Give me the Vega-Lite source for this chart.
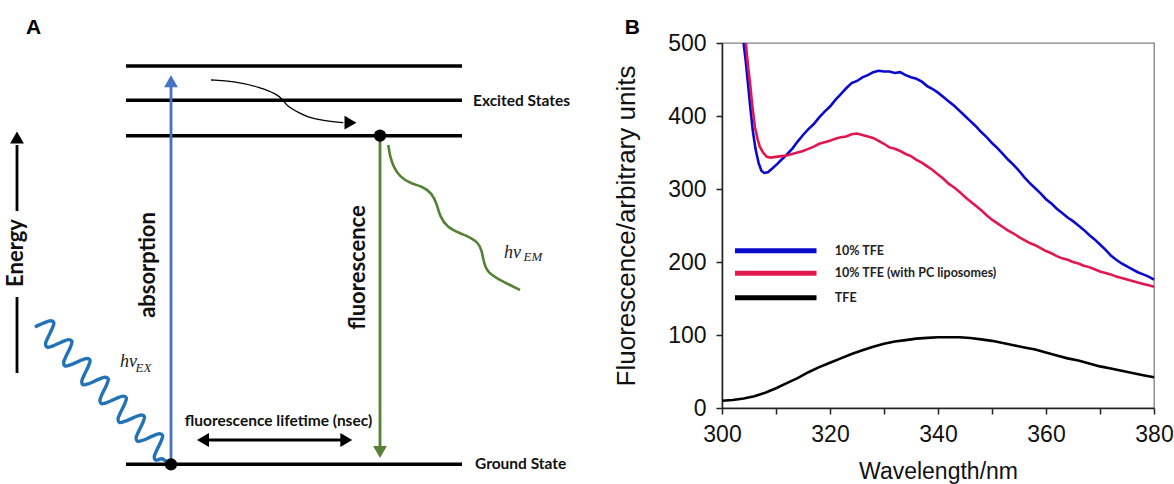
{
  "$schema": "https://vega.github.io/schema/vega-lite/v6.json",
  "width": 432,
  "height": 365,
  "autosize": {"type": "none"},
  "padding": {"left": 722, "top": 43, "right": 20, "bottom": 76},
  "background": "white",
  "config": {"view": {"stroke": "#808080", "strokeWidth": 1.3}},
  "datasets": {
    "curves": [
      {"series": "10% TFE", "w": 304.0, "v": 500}, {"series": "10% TFE", "w": 304.4, "v": 475}, {"series": "10% TFE", "w": 304.8, "v": 445}, {"series": "10% TFE", "w": 305.2, "v": 415}, {"series": "10% TFE", "w": 305.7, "v": 380}, {"series": "10% TFE", "w": 306.2, "v": 355}, {"series": "10% TFE", "w": 306.8, "v": 335}, {"series": "10% TFE", "w": 307.3, "v": 325}, {"series": "10% TFE", "w": 307.8, "v": 322}, {"series": "10% TFE", "w": 308.5, "v": 323}, {"series": "10% TFE", "w": 309.3, "v": 328}, {"series": "10% TFE", "w": 310.2, "v": 334}, {"series": "10% TFE", "w": 311, "v": 340}, {"series": "10% TFE", "w": 312, "v": 347}, {"series": "10% TFE", "w": 313.1, "v": 356}, {"series": "10% TFE", "w": 314, "v": 365}, {"series": "10% TFE", "w": 315, "v": 374}, {"series": "10% TFE", "w": 316, "v": 382}, {"series": "10% TFE", "w": 317, "v": 389}, {"series": "10% TFE", "w": 318, "v": 398}, {"series": "10% TFE", "w": 319, "v": 406}, {"series": "10% TFE", "w": 320, "v": 413}, {"series": "10% TFE", "w": 321, "v": 422}, {"series": "10% TFE", "w": 322, "v": 430}, {"series": "10% TFE", "w": 323, "v": 438}, {"series": "10% TFE", "w": 324, "v": 445}, {"series": "10% TFE", "w": 325, "v": 448}, {"series": "10% TFE", "w": 326, "v": 453}, {"series": "10% TFE", "w": 327, "v": 456}, {"series": "10% TFE", "w": 328, "v": 460}, {"series": "10% TFE", "w": 329, "v": 462}, {"series": "10% TFE", "w": 330, "v": 461}, {"series": "10% TFE", "w": 331, "v": 461}, {"series": "10% TFE", "w": 332, "v": 459}, {"series": "10% TFE", "w": 333, "v": 460}, {"series": "10% TFE", "w": 334, "v": 456}, {"series": "10% TFE", "w": 335, "v": 453}, {"series": "10% TFE", "w": 336, "v": 451}, {"series": "10% TFE", "w": 337, "v": 447}, {"series": "10% TFE", "w": 338, "v": 441}, {"series": "10% TFE", "w": 339, "v": 437}, {"series": "10% TFE", "w": 340, "v": 432}, {"series": "10% TFE", "w": 341, "v": 426}, {"series": "10% TFE", "w": 342, "v": 420}, {"series": "10% TFE", "w": 343, "v": 414}, {"series": "10% TFE", "w": 344, "v": 407}, {"series": "10% TFE", "w": 345, "v": 400}, {"series": "10% TFE", "w": 346, "v": 393}, {"series": "10% TFE", "w": 347, "v": 386}, {"series": "10% TFE", "w": 348, "v": 378}, {"series": "10% TFE", "w": 349, "v": 371}, {"series": "10% TFE", "w": 350, "v": 363}, {"series": "10% TFE", "w": 351, "v": 356}, {"series": "10% TFE", "w": 352, "v": 348}, {"series": "10% TFE", "w": 353, "v": 340}, {"series": "10% TFE", "w": 354, "v": 333}, {"series": "10% TFE", "w": 355, "v": 325}, {"series": "10% TFE", "w": 356, "v": 316}, {"series": "10% TFE", "w": 357, "v": 308}, {"series": "10% TFE", "w": 358, "v": 301}, {"series": "10% TFE", "w": 359, "v": 294}, {"series": "10% TFE", "w": 360, "v": 286}, {"series": "10% TFE", "w": 361, "v": 280}, {"series": "10% TFE", "w": 362, "v": 273}, {"series": "10% TFE", "w": 363, "v": 267}, {"series": "10% TFE", "w": 364, "v": 261}, {"series": "10% TFE", "w": 365, "v": 256}, {"series": "10% TFE", "w": 366, "v": 250}, {"series": "10% TFE", "w": 367, "v": 244}, {"series": "10% TFE", "w": 368, "v": 237}, {"series": "10% TFE", "w": 369, "v": 231}, {"series": "10% TFE", "w": 370, "v": 224}, {"series": "10% TFE", "w": 371, "v": 217}, {"series": "10% TFE", "w": 372, "v": 209}, {"series": "10% TFE", "w": 373, "v": 203}, {"series": "10% TFE", "w": 374, "v": 198}, {"series": "10% TFE", "w": 375, "v": 194}, {"series": "10% TFE", "w": 376, "v": 190}, {"series": "10% TFE", "w": 377, "v": 186}, {"series": "10% TFE", "w": 378, "v": 183}, {"series": "10% TFE", "w": 379, "v": 180}, {"series": "10% TFE", "w": 380, "v": 176},
      {"series": "10% TFE (with PC liposomes)", "w": 304.4, "v": 500}, {"series": "10% TFE (with PC liposomes)", "w": 304.8, "v": 470}, {"series": "10% TFE (with PC liposomes)", "w": 305.2, "v": 445}, {"series": "10% TFE (with PC liposomes)", "w": 305.6, "v": 415}, {"series": "10% TFE (with PC liposomes)", "w": 306.1, "v": 385}, {"series": "10% TFE (with PC liposomes)", "w": 306.6, "v": 368}, {"series": "10% TFE (with PC liposomes)", "w": 307.0, "v": 358}, {"series": "10% TFE (with PC liposomes)", "w": 307.6, "v": 350}, {"series": "10% TFE (with PC liposomes)", "w": 308.3, "v": 344}, {"series": "10% TFE (with PC liposomes)", "w": 309, "v": 343}, {"series": "10% TFE (with PC liposomes)", "w": 310, "v": 344}, {"series": "10% TFE (with PC liposomes)", "w": 311, "v": 345}, {"series": "10% TFE (with PC liposomes)", "w": 312, "v": 346}, {"series": "10% TFE (with PC liposomes)", "w": 313, "v": 348}, {"series": "10% TFE (with PC liposomes)", "w": 314, "v": 350}, {"series": "10% TFE (with PC liposomes)", "w": 315, "v": 352}, {"series": "10% TFE (with PC liposomes)", "w": 316, "v": 355}, {"series": "10% TFE (with PC liposomes)", "w": 317, "v": 358}, {"series": "10% TFE (with PC liposomes)", "w": 318, "v": 362}, {"series": "10% TFE (with PC liposomes)", "w": 319, "v": 364}, {"series": "10% TFE (with PC liposomes)", "w": 320, "v": 366}, {"series": "10% TFE (with PC liposomes)", "w": 321, "v": 369}, {"series": "10% TFE (with PC liposomes)", "w": 322, "v": 371}, {"series": "10% TFE (with PC liposomes)", "w": 323, "v": 372}, {"series": "10% TFE (with PC liposomes)", "w": 324, "v": 375}, {"series": "10% TFE (with PC liposomes)", "w": 325, "v": 376}, {"series": "10% TFE (with PC liposomes)", "w": 326, "v": 374}, {"series": "10% TFE (with PC liposomes)", "w": 327, "v": 372}, {"series": "10% TFE (with PC liposomes)", "w": 328, "v": 370}, {"series": "10% TFE (with PC liposomes)", "w": 329, "v": 366}, {"series": "10% TFE (with PC liposomes)", "w": 330, "v": 362}, {"series": "10% TFE (with PC liposomes)", "w": 331, "v": 357}, {"series": "10% TFE (with PC liposomes)", "w": 332, "v": 355}, {"series": "10% TFE (with PC liposomes)", "w": 333, "v": 352}, {"series": "10% TFE (with PC liposomes)", "w": 334, "v": 348}, {"series": "10% TFE (with PC liposomes)", "w": 335, "v": 345}, {"series": "10% TFE (with PC liposomes)", "w": 336, "v": 340}, {"series": "10% TFE (with PC liposomes)", "w": 337, "v": 336}, {"series": "10% TFE (with PC liposomes)", "w": 338, "v": 331}, {"series": "10% TFE (with PC liposomes)", "w": 339, "v": 326}, {"series": "10% TFE (with PC liposomes)", "w": 340, "v": 320}, {"series": "10% TFE (with PC liposomes)", "w": 341, "v": 314}, {"series": "10% TFE (with PC liposomes)", "w": 342, "v": 307}, {"series": "10% TFE (with PC liposomes)", "w": 343, "v": 302}, {"series": "10% TFE (with PC liposomes)", "w": 344, "v": 296}, {"series": "10% TFE (with PC liposomes)", "w": 345, "v": 289}, {"series": "10% TFE (with PC liposomes)", "w": 346, "v": 283}, {"series": "10% TFE (with PC liposomes)", "w": 347, "v": 277}, {"series": "10% TFE (with PC liposomes)", "w": 348, "v": 271}, {"series": "10% TFE (with PC liposomes)", "w": 349, "v": 264}, {"series": "10% TFE (with PC liposomes)", "w": 350, "v": 258}, {"series": "10% TFE (with PC liposomes)", "w": 351, "v": 253}, {"series": "10% TFE (with PC liposomes)", "w": 352, "v": 248}, {"series": "10% TFE (with PC liposomes)", "w": 353, "v": 243}, {"series": "10% TFE (with PC liposomes)", "w": 354, "v": 239}, {"series": "10% TFE (with PC liposomes)", "w": 355, "v": 234}, {"series": "10% TFE (with PC liposomes)", "w": 356, "v": 230}, {"series": "10% TFE (with PC liposomes)", "w": 357, "v": 226}, {"series": "10% TFE (with PC liposomes)", "w": 358, "v": 223}, {"series": "10% TFE (with PC liposomes)", "w": 359, "v": 219}, {"series": "10% TFE (with PC liposomes)", "w": 360, "v": 215}, {"series": "10% TFE (with PC liposomes)", "w": 361, "v": 212}, {"series": "10% TFE (with PC liposomes)", "w": 362, "v": 208}, {"series": "10% TFE (with PC liposomes)", "w": 363, "v": 205}, {"series": "10% TFE (with PC liposomes)", "w": 364, "v": 203}, {"series": "10% TFE (with PC liposomes)", "w": 365, "v": 200}, {"series": "10% TFE (with PC liposomes)", "w": 366, "v": 198}, {"series": "10% TFE (with PC liposomes)", "w": 367, "v": 195}, {"series": "10% TFE (with PC liposomes)", "w": 368, "v": 193}, {"series": "10% TFE (with PC liposomes)", "w": 369, "v": 190}, {"series": "10% TFE (with PC liposomes)", "w": 370, "v": 187}, {"series": "10% TFE (with PC liposomes)", "w": 371, "v": 185}, {"series": "10% TFE (with PC liposomes)", "w": 372, "v": 183}, {"series": "10% TFE (with PC liposomes)", "w": 373, "v": 180}, {"series": "10% TFE (with PC liposomes)", "w": 374, "v": 178}, {"series": "10% TFE (with PC liposomes)", "w": 375, "v": 176}, {"series": "10% TFE (with PC liposomes)", "w": 376, "v": 174}, {"series": "10% TFE (with PC liposomes)", "w": 377, "v": 172}, {"series": "10% TFE (with PC liposomes)", "w": 378, "v": 170}, {"series": "10% TFE (with PC liposomes)", "w": 379, "v": 168}, {"series": "10% TFE (with PC liposomes)", "w": 380, "v": 166},
      {"series": "TFE", "w": 300, "v": 10}, {"series": "TFE", "w": 302, "v": 11}, {"series": "TFE", "w": 304, "v": 13}, {"series": "TFE", "w": 306, "v": 16}, {"series": "TFE", "w": 308, "v": 21}, {"series": "TFE", "w": 310, "v": 27}, {"series": "TFE", "w": 312, "v": 34}, {"series": "TFE", "w": 314, "v": 41}, {"series": "TFE", "w": 316, "v": 49}, {"series": "TFE", "w": 318, "v": 56}, {"series": "TFE", "w": 320, "v": 62}, {"series": "TFE", "w": 322, "v": 68}, {"series": "TFE", "w": 324, "v": 74}, {"series": "TFE", "w": 326, "v": 79}, {"series": "TFE", "w": 328, "v": 84}, {"series": "TFE", "w": 330, "v": 88}, {"series": "TFE", "w": 332, "v": 91}, {"series": "TFE", "w": 334, "v": 93}, {"series": "TFE", "w": 336, "v": 95}, {"series": "TFE", "w": 338, "v": 96}, {"series": "TFE", "w": 340, "v": 97}, {"series": "TFE", "w": 342, "v": 97}, {"series": "TFE", "w": 344, "v": 97}, {"series": "TFE", "w": 346, "v": 96}, {"series": "TFE", "w": 348, "v": 94}, {"series": "TFE", "w": 350, "v": 92}, {"series": "TFE", "w": 352, "v": 89}, {"series": "TFE", "w": 354, "v": 86}, {"series": "TFE", "w": 356, "v": 83}, {"series": "TFE", "w": 358, "v": 80}, {"series": "TFE", "w": 360, "v": 76}, {"series": "TFE", "w": 362, "v": 72}, {"series": "TFE", "w": 364, "v": 68}, {"series": "TFE", "w": 366, "v": 65}, {"series": "TFE", "w": 368, "v": 61}, {"series": "TFE", "w": 370, "v": 57}, {"series": "TFE", "w": 372, "v": 54}, {"series": "TFE", "w": 374, "v": 51}, {"series": "TFE", "w": 376, "v": 48}, {"series": "TFE", "w": 378, "v": 45}, {"series": "TFE", "w": 380, "v": 42}
    ],
    "legendB": [
      {"series": "10% TFE", "lx": 302.4, "lx2": 317.5, "ly": 215.5, "tx": 320.9},
      {"series": "10% TFE (with PC liposomes)", "lx": 302.4, "lx2": 317.5, "ly": 184.5, "tx": 320.9},
      {"series": "TFE", "lx": 302.4, "lx2": 317.5, "ly": 151.1, "tx": 320.9}
    ],
    "panelB": [{"label": "B", "w": 283.4, "v": 521.2}],
    "levels": [
      {"state": "excited 2", "x": 12.6, "x2": 46.2, "y": 41.8},
      {"state": "excited 1", "x": 12.6, "x2": 46.2, "y": 38.37},
      {"state": "excited 0", "x": 12.6, "x2": 46.2, "y": 34.83},
      {"state": "ground", "x": 12.6, "x2": 46.2, "y": 1.97}
    ],
    "arrows": [
      {"name": "absorption", "kind": "absorption", "x": 17.1, "y": 1.97, "x2": 17.1, "y2": 39.8},
      {"name": "fluorescence", "kind": "emission", "x": 38.0, "y": 34.83, "x2": 38.0, "y2": 3.8},
      {"name": "lifetime", "kind": "neutral", "x": 20.6, "y": 4.4, "x2": 34.4, "y2": 4.4},
      {"name": "energy upper", "kind": "neutral", "x": 1.7, "y": 27.3, "x2": 1.7, "y2": 33.9},
      {"name": "energy lower", "kind": "neutral", "x": 1.7, "y": 11.1, "x2": 1.7, "y2": 18.7}
    ],
    "heads": [
      {"kind": "absorption", "dir": "up", "x": 17.1, "y": 40.27},
      {"kind": "emission", "dir": "down", "x": 38.0, "y": 3.2},
      {"kind": "neutral", "dir": "left", "x": 20.3, "y": 4.4},
      {"kind": "neutral", "dir": "right", "x": 34.63, "y": 4.4},
      {"kind": "neutral", "dir": "up", "x": 1.7, "y": 34.65},
      {"kind": "neutral", "dir": "right", "x": 35.05, "y": 36.13}
    ],
    "dots": [{"x": 17.1, "y": 1.97}, {"x": 38.0, "y": 34.83}],
    "paths": [
      {"path": "ex", "i": 0, "x": 3.49, "y": 15.70}, {"path": "ex", "i": 1, "x": 4.34, "y": 16.08}, {"path": "ex", "i": 2, "x": 5.08, "y": 16.32}, {"path": "ex", "i": 3, "x": 5.38, "y": 16.16}, {"path": "ex", "i": 4, "x": 5.22, "y": 15.56}, {"path": "ex", "i": 5, "x": 4.82, "y": 14.71}, {"path": "ex", "i": 6, "x": 4.55, "y": 14.00}, {"path": "ex", "i": 7, "x": 4.69, "y": 13.69},
      {"path": "ex", "i": 8, "x": 5.30, "y": 13.82}, {"path": "ex", "i": 9, "x": 6.16, "y": 14.19}, {"path": "ex", "i": 10, "x": 6.89, "y": 14.44}, {"path": "ex", "i": 11, "x": 7.19, "y": 14.28}, {"path": "ex", "i": 12, "x": 7.03, "y": 13.67}, {"path": "ex", "i": 13, "x": 6.63, "y": 12.83}, {"path": "ex", "i": 14, "x": 6.36, "y": 12.11}, {"path": "ex", "i": 15, "x": 6.50, "y": 11.80},
      {"path": "ex", "i": 16, "x": 7.11, "y": 11.94}, {"path": "ex", "i": 17, "x": 7.97, "y": 12.31}, {"path": "ex", "i": 18, "x": 8.70, "y": 12.55}, {"path": "ex", "i": 19, "x": 9.01, "y": 12.39}, {"path": "ex", "i": 20, "x": 8.84, "y": 11.79}, {"path": "ex", "i": 21, "x": 8.44, "y": 10.95}, {"path": "ex", "i": 22, "x": 8.17, "y": 10.23}, {"path": "ex", "i": 23, "x": 8.31, "y": 9.92},
      {"path": "ex", "i": 24, "x": 8.93, "y": 10.05}, {"path": "ex", "i": 25, "x": 9.78, "y": 10.43}, {"path": "ex", "i": 26, "x": 10.52, "y": 10.67}, {"path": "ex", "i": 27, "x": 10.82, "y": 10.51}, {"path": "ex", "i": 28, "x": 10.66, "y": 9.91}, {"path": "ex", "i": 29, "x": 10.25, "y": 9.06}, {"path": "ex", "i": 30, "x": 9.99, "y": 8.35}, {"path": "ex", "i": 31, "x": 10.12, "y": 8.04},
      {"path": "ex", "i": 32, "x": 10.74, "y": 8.17}, {"path": "ex", "i": 33, "x": 11.60, "y": 8.54}, {"path": "ex", "i": 34, "x": 12.33, "y": 8.79}, {"path": "ex", "i": 35, "x": 12.63, "y": 8.63}, {"path": "ex", "i": 36, "x": 12.47, "y": 8.02}, {"path": "ex", "i": 37, "x": 12.07, "y": 7.18}, {"path": "ex", "i": 38, "x": 11.80, "y": 6.47}, {"path": "ex", "i": 39, "x": 11.94, "y": 6.15},
      {"path": "ex", "i": 40, "x": 12.55, "y": 6.29}, {"path": "ex", "i": 41, "x": 13.41, "y": 6.66}, {"path": "ex", "i": 42, "x": 14.14, "y": 6.90}, {"path": "ex", "i": 43, "x": 14.45, "y": 6.74}, {"path": "ex", "i": 44, "x": 14.28, "y": 6.14}, {"path": "ex", "i": 45, "x": 13.88, "y": 5.30}, {"path": "ex", "i": 46, "x": 13.61, "y": 4.58}, {"path": "ex", "i": 47, "x": 13.75, "y": 4.27},
      {"path": "ex", "i": 48, "x": 14.37, "y": 4.40}, {"path": "ex", "i": 49, "x": 15.22, "y": 4.78}, {"path": "ex", "i": 50, "x": 15.95, "y": 5.02}, {"path": "ex", "i": 51, "x": 16.26, "y": 4.86}, {"path": "ex", "i": 52, "x": 16.10, "y": 4.26}, {"path": "ex", "i": 53, "x": 15.69, "y": 3.41}, {"path": "ex", "i": 54, "x": 15.42, "y": 2.70}, {"path": "ex", "i": 55, "x": 15.56, "y": 2.39},
      {"path": "ex", "i": 56, "x": 16.18, "y": 2.52}, {"path": "ex", "i": 57, "x": 16.65, "y": 2.25},
      {"path": "em", "i": 0, "x": 38.83, "y": 33.9}, {"path": "em", "i": 1, "x": 39.0, "y": 32.73}, {"path": "em", "i": 2, "x": 39.4, "y": 31.6}, {"path": "em", "i": 3, "x": 40.0, "y": 30.73}, {"path": "em", "i": 4, "x": 41.0, "y": 30.07}, {"path": "em", "i": 5, "x": 42.33, "y": 29.73}, {"path": "em", "i": 6, "x": 43.17, "y": 29.07}, {"path": "em", "i": 7, "x": 43.67, "y": 28.07}, {"path": "em", "i": 8, "x": 44.0, "y": 26.73}, {"path": "em", "i": 9, "x": 44.67, "y": 25.73}, {"path": "em", "i": 10, "x": 46.0, "y": 25.07}, {"path": "em", "i": 11, "x": 47.17, "y": 24.6}, {"path": "em", "i": 12, "x": 47.83, "y": 24.07}, {"path": "em", "i": 13, "x": 48.17, "y": 23.4}, {"path": "em", "i": 14, "x": 48.33, "y": 22.4}, {"path": "em", "i": 15, "x": 48.67, "y": 21.23}, {"path": "em", "i": 16, "x": 49.67, "y": 20.57}, {"path": "em", "i": 17, "x": 51.0, "y": 19.9}, {"path": "em", "i": 18, "x": 52.0, "y": 19.4},
      {"path": "relax", "i": 0, "x": 21.1, "y": 40.4}, {"path": "relax", "i": 1, "x": 23.33, "y": 40.3}, {"path": "relax", "i": 2, "x": 26.0, "y": 39.67}, {"path": "relax", "i": 3, "x": 27.67, "y": 39.0}, {"path": "relax", "i": 4, "x": 28.33, "y": 38.4}, {"path": "relax", "i": 5, "x": 28.67, "y": 37.8}, {"path": "relax", "i": 6, "x": 30.0, "y": 37.07}, {"path": "relax", "i": 7, "x": 30.67, "y": 36.73}, {"path": "relax", "i": 8, "x": 32.33, "y": 36.33}, {"path": "relax", "i": 9, "x": 34.33, "y": 36.13}
    ],
    "textsA": [
      {"role": "panel", "label": "A", "x": 3.35, "y": 45.65},
      {"role": "state", "label": "Excited States", "x": 47.3, "y": 37.8},
      {"role": "state", "label": "Ground State", "x": 47.5, "y": 1.47},
      {"role": "lifetime", "label": "fluorescence lifetime (nsec)", "x": 27.85, "y": 5.83},
      {"role": "vertical", "label": "absorption", "x": 14.75, "y": 21.9},
      {"role": "vertical", "label": "fluorescence", "x": 35.75, "y": 21.65},
      {"role": "vertical", "label": "Energy", "x": 1.6, "y": 23.1},
      {"role": "photon", "label": "hν", "x": 12.0, "y": 11.67},
      {"role": "sub", "label": "EX", "x": 13.55, "y": 11.23},
      {"role": "photon", "label": "hν", "x": 50.4, "y": 22.57},
      {"role": "sub", "label": "EM", "x": 52.35, "y": 22.33}
    ]
  },
  "layer": [
    {
      "layer": [
        {
          "data": {"name": "curves"},
          "mark": {"type": "line", "strokeWidth": 2.6},
          "encoding": {
            "x": {"field": "w", "type": "quantitative", "title": "Wavelength/nm",
              "scale": {"domain": [300, 380], "nice": false, "zero": false},
              "axis": {"values": [300, 310, 320, 330, 340, 350, 360, 370, 380], "labelExpr": "datum.value % 20 === 0 ? datum.label : ''", "labelFlush": false, "labelOverlap": false, "labelFont": "Liberation Sans", "labelFontSize": 23, "labelColor": "#111", "labelPadding": 9, "tickSize": 6, "tickWidth": 1.5, "tickColor": "#222", "domainColor": "#222", "domainWidth": 1.5, "grid": false, "titleFont": "Liberation Sans", "titleFontSize": 23, "titleFontWeight": "normal", "titleColor": "#111", "titlePadding": 14}},
            "y": {"field": "v", "type": "quantitative", "title": "Fluorescence/arbitrary units",
              "scale": {"domain": [0, 500], "nice": false, "zero": false},
              "axis": {"values": [0, 50, 100, 150, 200, 250, 300, 350, 400, 450, 500], "labelExpr": "datum.value % 100 === 0 ? datum.label : ''", "labelOverlap": false, "labelFont": "Liberation Sans", "labelFontSize": 23, "labelColor": "#111", "labelPadding": 10, "tickSize": 6, "tickWidth": 1.5, "tickColor": "#222", "domainColor": "#222", "domainWidth": 1.5, "grid": false, "titleFont": "Liberation Sans", "titleFontSize": 26, "titleFontWeight": "normal", "titleColor": "#111", "titlePadding": 28}},
            "color": {"field": "series", "type": "nominal", "legend": null,
              "scale": {"domain": ["10% TFE", "10% TFE (with PC liposomes)", "TFE"], "range": ["#0A0ACC", "#E3174F", "#000000"]}}
          }
        },
        {
          "data": {"name": "legendB"},
          "mark": {"type": "rule", "strokeWidth": 5},
          "encoding": {
            "x": {"field": "lx", "type": "quantitative", "title": "Wavelength/nm", "scale": {"domain": [300, 380], "nice": false, "zero": false}},
            "x2": {"field": "lx2"},
            "y": {"field": "ly", "type": "quantitative", "title": "Fluorescence/arbitrary units", "scale": {"domain": [0, 500], "nice": false, "zero": false}},
            "color": {"field": "series", "type": "nominal", "legend": null,
              "scale": {"domain": ["10% TFE", "10% TFE (with PC liposomes)", "TFE"], "range": ["#0A0ACC", "#E3174F", "#000000"]}}
          }
        },
        {
          "data": {"name": "legendB"},
          "mark": {"type": "text", "align": "left", "baseline": "middle", "font": "Lato", "fontWeight": "bold", "fontSize": 12.5, "color": "#222"},
          "encoding": {
            "x": {"field": "tx", "type": "quantitative", "title": "Wavelength/nm", "scale": {"domain": [300, 380], "nice": false, "zero": false}},
            "y": {"field": "ly", "type": "quantitative", "title": "Fluorescence/arbitrary units", "scale": {"domain": [0, 500], "nice": false, "zero": false}},
            "text": {"field": "series"}
          }
        },
        {
          "data": {"name": "panelB"},
          "mark": {"type": "text", "align": "center", "baseline": "middle", "font": "Liberation Sans", "fontWeight": "bold", "fontSize": 21, "color": "#000"},
          "encoding": {
            "x": {"field": "w", "type": "quantitative", "title": "Wavelength/nm", "scale": {"domain": [300, 380], "nice": false, "zero": false}},
            "y": {"field": "v", "type": "quantitative", "title": "Fluorescence/arbitrary units", "scale": {"domain": [0, 500], "nice": false, "zero": false}},
            "text": {"field": "label"}
          }
        }
      ]
    },
    {
      "layer": [
        {
          "data": {"name": "levels"},
          "mark": {"type": "rule", "strokeWidth": 3.5, "color": "#000"},
          "encoding": {
            "x": {"field": "x", "type": "quantitative", "axis": null, "scale": {"domain": [0, 59], "range": [-722, -132], "nice": false, "zero": false}},
            "x2": {"field": "x2"},
            "y": {"field": "y", "type": "quantitative", "axis": null, "scale": {"domain": [0, 48.4], "range": [441, -43], "nice": false, "zero": false}}
          }
        },
        {
          "data": {"name": "arrows"},
          "mark": {"type": "rule", "strokeWidth": 2.8},
          "encoding": {
            "x": {"field": "x", "type": "quantitative", "axis": null, "scale": {"domain": [0, 59], "range": [-722, -132], "nice": false, "zero": false}},
            "x2": {"field": "x2"},
            "y": {"field": "y", "type": "quantitative", "axis": null, "scale": {"domain": [0, 48.4], "range": [441, -43], "nice": false, "zero": false}},
            "y2": {"field": "y2"},
            "color": {"field": "kind", "type": "nominal", "legend": null, "scale": {"domain": ["absorption", "emission", "neutral"], "range": ["#4472C4", "#548235", "#000000"]}}
          }
        },
        {
          "data": {"name": "paths"},
          "transform": [{"filter": "datum.path === 'ex'"}],
          "mark": {"type": "line", "strokeWidth": 3.4, "color": "#2272B8", "interpolate": "catmull-rom"},
          "encoding": {
            "x": {"field": "x", "type": "quantitative", "axis": null, "scale": {"domain": [0, 59], "range": [-722, -132], "nice": false, "zero": false}},
            "y": {"field": "y", "type": "quantitative", "axis": null, "scale": {"domain": [0, 48.4], "range": [441, -43], "nice": false, "zero": false}},
            "order": {"field": "i", "type": "quantitative"}
          }
        },
        {
          "data": {"name": "paths"},
          "transform": [{"filter": "datum.path === 'em'"}],
          "mark": {"type": "line", "strokeWidth": 2.6, "color": "#548235", "interpolate": "basis"},
          "encoding": {
            "x": {"field": "x", "type": "quantitative", "axis": null, "scale": {"domain": [0, 59], "range": [-722, -132], "nice": false, "zero": false}},
            "y": {"field": "y", "type": "quantitative", "axis": null, "scale": {"domain": [0, 48.4], "range": [441, -43], "nice": false, "zero": false}},
            "order": {"field": "i", "type": "quantitative"}
          }
        },
        {
          "data": {"name": "paths"},
          "transform": [{"filter": "datum.path === 'relax'"}],
          "mark": {"type": "line", "strokeWidth": 1.3, "color": "#000", "interpolate": "basis"},
          "encoding": {
            "x": {"field": "x", "type": "quantitative", "axis": null, "scale": {"domain": [0, 59], "range": [-722, -132], "nice": false, "zero": false}},
            "y": {"field": "y", "type": "quantitative", "axis": null, "scale": {"domain": [0, 48.4], "range": [441, -43], "nice": false, "zero": false}},
            "order": {"field": "i", "type": "quantitative"}
          }
        },
        {
          "data": {"name": "heads"},
          "mark": {"type": "point", "filled": true, "opacity": 1, "size": 190},
          "encoding": {
            "x": {"field": "x", "type": "quantitative", "axis": null, "scale": {"domain": [0, 59], "range": [-722, -132], "nice": false, "zero": false}},
            "y": {"field": "y", "type": "quantitative", "axis": null, "scale": {"domain": [0, 48.4], "range": [441, -43], "nice": false, "zero": false}},
            "color": {"field": "kind", "type": "nominal", "legend": null, "scale": {"domain": ["absorption", "emission", "neutral"], "range": ["#4472C4", "#548235", "#000000"]}},
            "shape": {"field": "dir", "type": "nominal", "legend": null, "scale": {"domain": ["up", "down", "left", "right"], "range": ["triangle-up", "triangle-down", "triangle-left", "triangle-right"]}}
          }
        },
        {
          "data": {"name": "dots"},
          "mark": {"type": "point", "shape": "circle", "filled": true, "opacity": 1, "size": 150, "color": "#000"},
          "encoding": {
            "x": {"field": "x", "type": "quantitative", "axis": null, "scale": {"domain": [0, 59], "range": [-722, -132], "nice": false, "zero": false}},
            "y": {"field": "y", "type": "quantitative", "axis": null, "scale": {"domain": [0, 48.4], "range": [441, -43], "nice": false, "zero": false}}
          }
        },
        {
          "data": {"name": "textsA"},
          "transform": [{"filter": "datum.role === 'panel'"}],
          "mark": {"type": "text", "align": "center", "baseline": "middle", "font": "Liberation Sans", "fontWeight": "bold", "fontSize": 21, "color": "#000"},
          "encoding": {
            "x": {"field": "x", "type": "quantitative", "axis": null, "scale": {"domain": [0, 59], "range": [-722, -132], "nice": false, "zero": false}},
            "y": {"field": "y", "type": "quantitative", "axis": null, "scale": {"domain": [0, 48.4], "range": [441, -43], "nice": false, "zero": false}},
            "text": {"field": "label"}
          }
        },
        {
          "data": {"name": "textsA"},
          "transform": [{"filter": "datum.role === 'state'"}],
          "mark": {"type": "text", "align": "left", "baseline": "alphabetic", "font": "Lato", "fontWeight": "bold", "fontSize": 15.5, "color": "#111"},
          "encoding": {
            "x": {"field": "x", "type": "quantitative", "axis": null, "scale": {"domain": [0, 59], "range": [-722, -132], "nice": false, "zero": false}},
            "y": {"field": "y", "type": "quantitative", "axis": null, "scale": {"domain": [0, 48.4], "range": [441, -43], "nice": false, "zero": false}},
            "text": {"field": "label"}
          }
        },
        {
          "data": {"name": "textsA"},
          "transform": [{"filter": "datum.role === 'lifetime'"}],
          "mark": {"type": "text", "align": "center", "baseline": "alphabetic", "font": "Lato", "fontWeight": "bold", "fontSize": 15.5, "color": "#111"},
          "encoding": {
            "x": {"field": "x", "type": "quantitative", "axis": null, "scale": {"domain": [0, 59], "range": [-722, -132], "nice": false, "zero": false}},
            "y": {"field": "y", "type": "quantitative", "axis": null, "scale": {"domain": [0, 48.4], "range": [441, -43], "nice": false, "zero": false}},
            "text": {"field": "label"}
          }
        },
        {
          "data": {"name": "textsA"},
          "transform": [{"filter": "datum.role === 'vertical'"}],
          "mark": {"type": "text", "align": "center", "baseline": "middle", "angle": 270, "font": "Lato", "fontWeight": "bold", "fontSize": 22, "color": "#111"},
          "encoding": {
            "x": {"field": "x", "type": "quantitative", "axis": null, "scale": {"domain": [0, 59], "range": [-722, -132], "nice": false, "zero": false}},
            "y": {"field": "y", "type": "quantitative", "axis": null, "scale": {"domain": [0, 48.4], "range": [441, -43], "nice": false, "zero": false}},
            "text": {"field": "label"}
          }
        },
        {
          "data": {"name": "textsA"},
          "transform": [{"filter": "datum.role === 'photon'"}],
          "mark": {"type": "text", "align": "left", "baseline": "alphabetic", "font": "Liberation Serif", "fontStyle": "italic", "fontSize": 18, "color": "#222"},
          "encoding": {
            "x": {"field": "x", "type": "quantitative", "axis": null, "scale": {"domain": [0, 59], "range": [-722, -132], "nice": false, "zero": false}},
            "y": {"field": "y", "type": "quantitative", "axis": null, "scale": {"domain": [0, 48.4], "range": [441, -43], "nice": false, "zero": false}},
            "text": {"field": "label"}
          }
        },
        {
          "data": {"name": "textsA"},
          "transform": [{"filter": "datum.role === 'sub'"}],
          "mark": {"type": "text", "align": "left", "baseline": "alphabetic", "font": "Liberation Serif", "fontStyle": "italic", "fontSize": 13, "color": "#222"},
          "encoding": {
            "x": {"field": "x", "type": "quantitative", "axis": null, "scale": {"domain": [0, 59], "range": [-722, -132], "nice": false, "zero": false}},
            "y": {"field": "y", "type": "quantitative", "axis": null, "scale": {"domain": [0, 48.4], "range": [441, -43], "nice": false, "zero": false}},
            "text": {"field": "label"}
          }
        }
      ]
    }
  ],
  "resolve": {"scale": {"x": "independent", "y": "independent", "color": "independent"}}
}
